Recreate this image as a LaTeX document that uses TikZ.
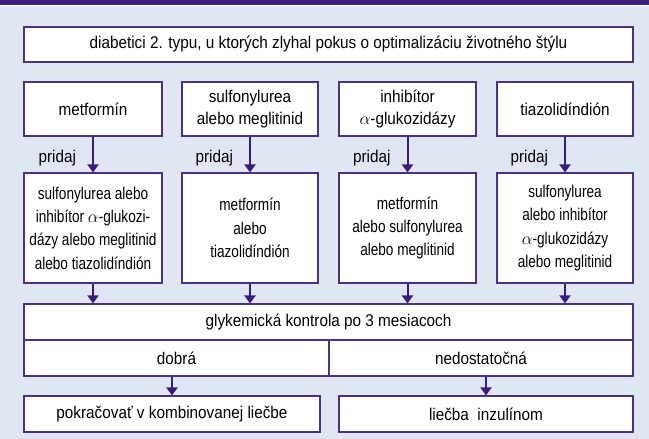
\documentclass[tikz,border=0pt]{standalone}
\usepackage{fontspec}
\setmainfont{Liberation Sans}[FakeStretch=0.9]
\newfontfamily\narrowfont{Liberation Sans}[FakeStretch=0.8]
\usetikzlibrary{arrows.meta, positioning}

\definecolor{panelbg}{HTML}{E0E6F4}
\definecolor{barpurple}{HTML}{3B1F7A}
\definecolor{boxline}{HTML}{4A3088}
\definecolor{arrowpurple}{HTML}{3A1C7A}

\begin{document}
\begin{tikzpicture}[x=1pt, y=-1pt,
    box/.style={draw=boxline, fill=white, line width=1.1pt, align=center,
                inner sep=0pt, font=\fontsize{17}{22}\selectfont},
    addbox/.style={box, font=\narrowfont\fontsize{17}{23.3}\selectfont},
    flow/.style={-{Triangle[width=11pt, length=8pt]}, line width=2pt, arrowpurple},
    addlabel/.style={font=\fontsize{17}{20}\selectfont, text=black, inner sep=0pt}]
  % Background and title bar
  \fill[panelbg] (0,0) rectangle (649,439);
  \useasboundingbox (0,0) rectangle (649,439);
  \fill[barpurple] (0,0) rectangle (649,4.5);
  \fill[white] (0,4.5) rectangle (649,6);

  % Starting group
  \node[box, minimum width=609pt, minimum height=35pt] (start) at (328.5,44.5)
    {diabetici 2. typu, u ktorých zlyhal pokus o optimalizáciu životného štýlu};

  % First drug
  \node[box, minimum width=138pt, minimum height=54pt] (met) at (93,109) {metformín};
  \node[box, minimum width=136pt, minimum height=54pt] (sulf) at (250,109)
    {sulfonylurea\\alebo meglitinid};
  \node[box, minimum width=137pt, minimum height=54pt] (inh) at (407.5,109)
    {inhibítor\\$\alpha$-glukozidázy};
  \node[box, minimum width=136pt, minimum height=54pt] (tiaz) at (565,109) {tiazolidíndión};

  % Second drug
  \node[addbox, minimum width=138pt, minimum height=110pt] (add1) at (93,228)
    {sulfonylurea alebo\\inhibítor $\alpha$-glukozi-\\dázy alebo meglitinid\\alebo tiazolidíndión};
  \node[addbox, minimum width=136pt, minimum height=110pt] (add2) at (250,228)
    {metformín\\alebo\\tiazolidíndión};
  \node[addbox, minimum width=137pt, minimum height=110pt] (add3) at (407.5,228)
    {metformín\\alebo sulfonylurea\\alebo meglitinid};
  \node[addbox, minimum width=136pt, minimum height=110pt] (add4) at (565,228)
    {sulfonylurea\\alebo inhibítor\\$\alpha$-glukozidázy\\alebo meglitinid};

  % Control after 3 months
  \node[box, minimum width=609pt, minimum height=36pt] (glyk) at (328.5,322)
    {glykemická kontrola po 3 mesiacoch};
  \node[box, minimum width=305pt, minimum height=36pt] (good) at (176.5,358) {dobrá};
  \node[box, minimum width=304pt, minimum height=36pt] (poor) at (481,358) {nedostatočná};

  % Outcome
  \node[box, minimum width=296pt, minimum height=36pt] (cont) at (172,414)
    {pokračovať v kombinovanej liečbe};
  \node[box, minimum width=294pt, minimum height=36pt] (ins) at (486,414)
    {liečba\ \ inzulínom};

  % Arrows
  \foreach \a/\b in {met/add1, sulf/add2, inh/add3, tiaz/add4} {
    \draw[flow] (\a.south) -- (\b.north)
      node[pos=0.6, left=16pt, addlabel] {pridaj};
    \draw[flow] (\b.south) -- (\b.south |- glyk.north);
  }
  \draw[flow] (good.south -| cont.north) -- (cont.north);
  \draw[flow] (poor.south -| ins.north) -- (ins.north);
\end{tikzpicture}
\end{document}
